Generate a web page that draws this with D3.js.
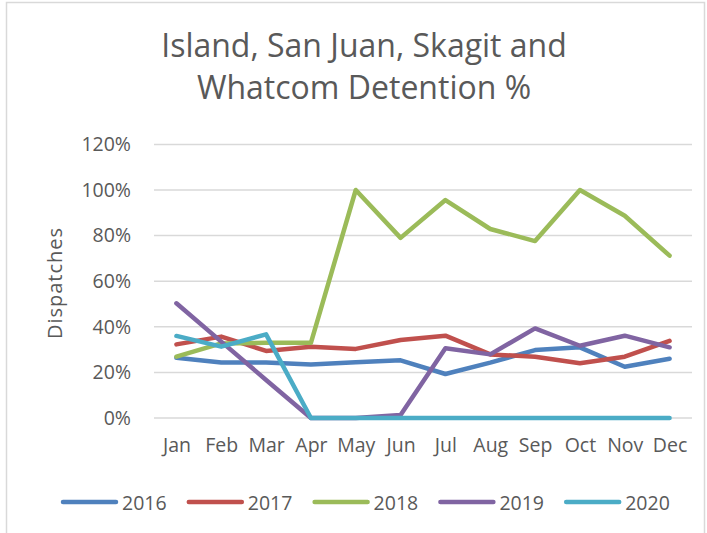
<!DOCTYPE html>
<html>
<head>
<meta charset="utf-8">
<script src="https://cdn.jsdelivr.net/npm/d3@7"></script>
<style>
  body { margin: 0; background: #fff; }
  svg { display: block; font-family: "Open Sans", sans-serif; }
</style>
</head>
<body>
<div id="chart"></div>
<script>
// chart data
const months = ["Jan", "Feb", "Mar", "Apr", "May", "Jun", "Jul", "Aug", "Sep", "Oct", "Nov", "Dec"];
const years = ["2016", "2017", "2018", "2019", "2020"];
const yTicks = [0, 0.2, 0.4, 0.6, 0.8, 1.0, 1.2];

const v2016 = [0.264, 0.243, 0.243, 0.235, 0.244, 0.253, 0.193, 0.243, 0.298, 0.31, 0.225, 0.26];
const v2017 = [0.323, 0.357, 0.294, 0.313, 0.303, 0.342, 0.361, 0.279, 0.269, 0.24, 0.269, 0.338];
const v2018 = [0.269, 0.327, 0.33, 0.33, 1.0, 0.79, 0.956, 0.829, 0.776, 1.0, 0.887, 0.712];
const v2019 = [0.503, 0.335, 0.167, 0, 0, 0.013, 0.306, 0.279, 0.393, 0.317, 0.361, 0.31];
const v2020 = [0.36, 0.313, 0.367, 0, 0, 0, 0, 0, 0, 0, 0, 0];

const colors = ["#4f81bd", "#c0504d", "#9bbb59", "#8064a2", "#4bacc6"];

const width = 707;
const height = 533;
const textGray = "#595959";

const series = years.map((y, i) => ({
  name: y,
  color: colors[i],
  values: [v2016, v2017, v2018, v2019, v2020][i]
}));

const svg = d3.select("#chart")
  .append("svg")
    .attr("width", width)
    .attr("height", height);

// chart border
svg.append("rect")
  .attr("x", 6.5)
  .attr("y", 2.5)
  .attr("width", 698)
  .attr("height", 560)
  .attr("fill", "none")
  .attr("stroke", "#d9d9d9")
  .attr("stroke-width", 1.5);

const xScale = d3.scalePoint()
  .domain(months)
  .range([154, 692])
  .padding(0.5);

const yScale = d3.scaleLinear()
  .domain([0, 1.2])
  .range([418, 144.4]);

// gridlines
svg.append("g")
  .selectAll("line")
  .data(yTicks)
  .join("line")
    .attr("x1", 154)
    .attr("x2", 692)
    .attr("y1", d => yScale(d))
    .attr("y2", d => yScale(d))
    .attr("stroke", "#d9d9d9")
    .attr("stroke-width", 1.5);

// y axis labels
const leftAxis = d3.axisLeft(yScale)
  .tickValues(yTicks)
  .tickFormat(d3.format(".0%"))
  .tickSize(0)
  .tickPadding(0);
svg.append("g")
    .attr("class", "axis-y")
    .attr("transform", "translate(131, 0)")
    .call(leftAxis)
    .call(g => g.select(".domain").remove());

// x axis labels
const bottomAxis = d3.axisBottom(xScale)
  .tickSize(0)
  .tickPadding(0);
svg.append("g")
    .attr("class", "axis-x")
    .attr("transform", "translate(0, 438)")
    .call(bottomAxis)
    .call(g => g.select(".domain").remove());

d3.selectAll(".axis-y text, .axis-x text")
  .style("font-family", "'Open Sans', sans-serif")
  .style("font-size", "19.5px")
  .attr("fill", textGray);

// lines
const lineGenerator = d3.line()
  .x((d, i) => xScale(months[i]))
  .y(d => yScale(d));

svg.append("g")
  .selectAll("path")
  .data(series)
  .join("path")
    .attr("d", d => lineGenerator(d.values))
    .attr("fill", "none")
    .attr("stroke", d => d.color)
    .attr("stroke-width", 4.5)
    .attr("stroke-linejoin", "round")
    .attr("stroke-linecap", "round");

// title
svg.append("text")
  .attr("x", 364)
  .attr("text-anchor", "middle")
  .attr("fill", textGray)
  .style("font-size", "32px")
  .selectAll("tspan")
  .data(["Island, San Juan, Skagit and", "Whatcom Detention %"])
  .join("tspan")
    .attr("x", 364)
    .attr("y", (d, i) => 57 + i * 42)
    .text(d => d);

// y axis title
svg.append("text")
  .text("Dispatches")
  .attr("transform", "translate(62, 283) rotate(-90)")
  .attr("text-anchor", "middle")
  .attr("fill", textGray)
  .style("font-size", "20px")
  .style("letter-spacing", "1px");

// legend
const legend = svg.append("g")
  .selectAll("g")
  .data(series)
  .join("g")
    .attr("transform", (d, i) => `translate(${61 + i * 125.8}, 502)`);

legend.append("line")
  .attr("x1", 2)
  .attr("x2", 55)
  .attr("stroke", d => d.color)
  .attr("stroke-width", 4.5)
  .attr("stroke-linecap", "round");

legend.append("text")
  .text(d => d.name)
  .attr("x", 61)
  .attr("y", 7.5)
  .attr("fill", textGray)
  .style("font-size", "19.5px");
</script>
</body>
</html>
